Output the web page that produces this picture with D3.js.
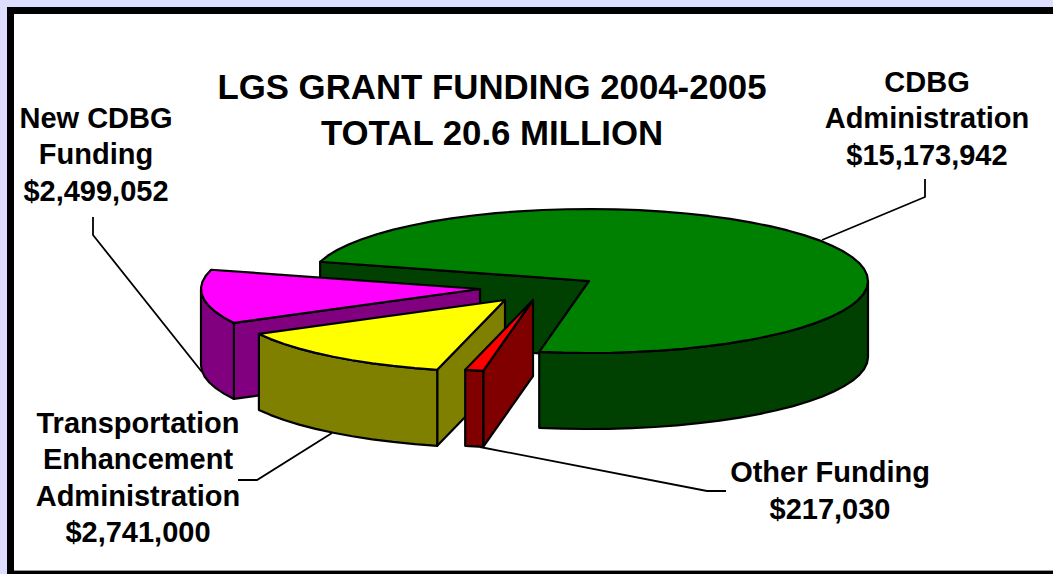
<!DOCTYPE html>
<html>
<head>
<meta charset="utf-8">
<script src="https://cdn.jsdelivr.net/npm/d3@7/dist/d3.min.js"></script>
<style>
html,body{margin:0;padding:0;background:#ddddff;}
svg{display:block;}
text{font-family:"Liberation Sans",Arial,sans-serif;font-weight:bold;fill:#000;text-anchor:middle;}
</style>
</head>
<body>
<svg id="chart" width="1053" height="574"></svg>
<script>
// Grant funding by program, in dollars
const sources = ["CDBG Administration", "Other Funding", "Transportation Enhancement Administration", "New CDBG Funding"];
const amounts = [15173942, 217030, 2741000, 2499052];
const topColors = ["#008000", "#ff0000", "#ffff00", "#ff00ff"];
const wallColors = ["#004000", "#800000", "#808000", "#800080"];
const titleLines = ["LGS GRANT FUNDING 2004-2005", "TOTAL 20.6 MILLION"];
const labelLines = [
  ["CDBG", "Administration", "$15,173,942"],
  ["Other Funding", "$217,030"],
  ["Transportation", "Enhancement", "Administration", "$2,741,000"],
  ["New CDBG", "Funding", "$2,499,052"]
];

// Layout of the tilted pie
const W = 1053, H = 574;
const rx = 279, ry = 72, depth = 76;
const startDeg = 285.5;
const hubs = [[589, 281], [533, 300], [505, 300], [480, 289]];
const paintOrder = [0, 3, 2, 1];   // back to front
const labelAnchors = [[927, 91.5], [830, 482], [138, 432.5], [96, 127.5]];
const leaders = [
  [[822, 240], [925, 197], [925, 179]],
  [[480, 447], [707, 491], [726, 491]],
  [[332, 433], [257, 480], [238, 480]],
  [[93, 217], [93, 235], [202, 372]]
];
const labelSize = 29, labelLeading = 36.6;

const svg = d3.select("#chart");
svg.append("rect").attr("x", 10.5).attr("y", 10.5).attr("width", W + 20).attr("height", H - 10.4)
  .attr("fill", "#fff").attr("stroke", "#000").attr("stroke-width", 7);

const pie = d3.pie().sort(null)
  .startAngle(startDeg * Math.PI / 180)
  .endAngle((startDeg + 360) * Math.PI / 180);
const arcs = pie(amounts);

const pathOf = d3.line().curve(d3.curveLinear);
const project = (hub, a, drop = 0) => [hub[0] + rx * Math.sin(a), hub[1] - ry * Math.cos(a) + drop];

// Rim points between two angles, sampled coarsely like a flattened polygon
function rim(hub, a0, a1, drop = 0) {
  const n = Math.max(1, Math.ceil(Math.abs(a1 - a0) / (5 * Math.PI / 180)));
  return d3.range(n + 1).map(i => project(hub, a0 + (a1 - a0) * i / n, drop));
}

// Portion of a slice's rim on the near half of the ellipse, where its wall shows
function nearSpan(a0, a1) {
  const spans = [];
  const tau = 2 * Math.PI;
  for (const k of [0, 1]) {
    const lo = Math.max(a0, Math.PI / 2 + k * tau), hi = Math.min(a1, 3 * Math.PI / 2 + k * tau);
    if (hi > lo) spans.push([lo, hi]);
  }
  return spans;
}

const sliceStyle = sel => sel.attr("stroke", "#000").attr("stroke-width", 2.2).attr("stroke-linejoin", "round");

const plot = svg.append("g").attr("class", "pie");
paintOrder.forEach(i => {
  const d = arcs[i];
  const hub = hubs[i];
  const g = plot.append("g");
  const a0 = d.startAngle, a1 = d.endAngle;
  // Cut faces that turn toward the viewer
  const faces = [];
  if (Math.sin(a0) < 0) faces.push(a0);
  if (Math.sin(a1) > 0) faces.push(a1);
  faces.forEach(a => {
    const p = project(hub, a);
    g.append("path").attr("fill", wallColors[i]).call(sliceStyle)
      .attr("d", pathOf([hub, p, [p[0], p[1] + depth], [hub[0], hub[1] + depth]]) + "Z");
  });
  // Outer wall
  nearSpan(a0, a1).forEach(([lo, hi]) => {
    const top = rim(hub, lo, hi), low = rim(hub, hi, lo, depth);
    g.append("path").attr("fill", wallColors[i]).call(sliceStyle)
      .attr("d", pathOf(top.concat(low)) + "Z");
  });
  // Top surface
  g.append("path").attr("fill", topColors[i]).call(sliceStyle)
    .attr("d", pathOf([hub].concat(rim(hub, a0, a1))) + "Z");
});

// Leader lines
svg.append("g").selectAll("path").data(leaders).join("path")
  .attr("d", d => pathOf(d)).attr("fill", "none").attr("stroke", "#000").attr("stroke-width", 1.8);

// Title
svg.append("g").selectAll("text").data(titleLines).join("text")
  .attr("x", 492).attr("y", (d, i) => 99 + i * 46).attr("font-size", 34.8).text(d => d);

// Slice labels
labelLines.forEach((lines, i) => {
  svg.append("g").attr("class", "label").attr("aria-label", sources[i])
    .selectAll("text").data(lines).join("text")
    .attr("x", labelAnchors[i][0])
    .attr("y", (d, j) => labelAnchors[i][1] + j * labelLeading)
    .attr("font-size", labelSize).text(d => d);
});
</script>
</body>
</html>
